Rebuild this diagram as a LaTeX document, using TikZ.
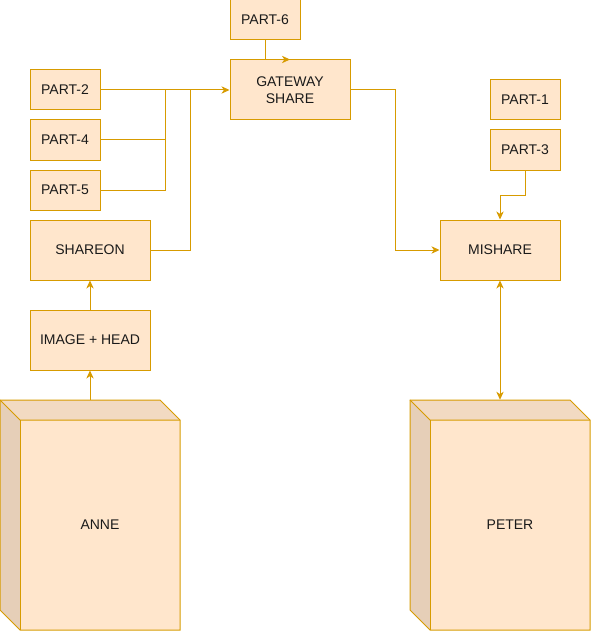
\documentclass[tikz,border=0pt]{standalone}
\usepackage{fontspec}
\setmainfont{Liberation Sans}
\usetikzlibrary{arrows.meta}
\definecolor{fillc}{HTML}{FFE6CC}
\definecolor{strk}{HTML}{D79B00}
\definecolor{topc}{HTML}{F2DAC2}
\definecolor{sidec}{HTML}{E6CFB8}
\definecolor{txt}{HTML}{1A1A1A}
\begin{document}
\begin{tikzpicture}[x=0.75pt,y=-0.75pt,
  lbl/.style={font=\fontsize{10.5pt}{12.5pt}\selectfont, text=txt},
  box/.style={lbl, draw=strk, fill=fillc, line width=0.75pt, inner sep=0pt, align=center},
  small/.style={box, minimum width=52.5pt, minimum height=30pt},
  big/.style={box, minimum width=90pt, minimum height=45pt},
  conn/.style={draw=strk, line width=0.75pt},
  tip/.style={},
  arr/.style={conn, -{Stealth[length=6pt,width=5.5pt,inset=1.8pt]}},
  arr2/.style={conn, {Stealth[length=6pt,width=5.5pt,inset=1.8pt]}-{Stealth[length=6pt,width=5.5pt,inset=1.8pt]}},
  cubeedge/.style={draw=strk, line width=0.75pt, line join=miter}
]
\useasboundingbox (0,0) rectangle (592,631);

% boxes
\node[small] (p6) at (265,20) {PART-6};
\node[big] (gw) at (290,90) {GATEWAY\\SHARE};
\node[small] (p2) at (65,90) {PART-2};
\node[small] (p4) at (65,140) {PART-4};
\node[small] (p5) at (65,190) {PART-5};
\node[big] (sh) at (90,250) {SHAREON};
\node[big] (ih) at (90,340) {IMAGE + HEAD};
\node[small] (p1) at (525,100) {PART-1};
\node[small] (p3) at (525,150) {PART-3};
\node[big] (mi) at (500,250) {MISHARE};

% cube ANNE
\fill[topc] (0,400) -- (160,400) -- (180,420) -- (20,420) -- cycle;
\fill[sidec] (0,400) -- (20,420) -- (20,630) -- (0,610) -- cycle;
\fill[fillc] (20,420) rectangle (180,630);
\draw[cubeedge] (0,400) -- (160,400) -- (180,420) -- (180,630) -- (20,630) -- (0,610) -- cycle;
\draw[cubeedge] (0,400) -- (20,420) -- (180,420);
\draw[cubeedge] (20,420) -- (20,630);
\node[inner sep=0pt, minimum width=135pt, minimum height=172.5pt] (anne) at (90,515) {};
\node[lbl] (annet) at (100,525) {ANNE};

% cube PETER
\fill[topc] (410,400) -- (570,400) -- (590,420) -- (430,420) -- cycle;
\fill[sidec] (410,400) -- (430,420) -- (430,630) -- (410,610) -- cycle;
\fill[fillc] (430,420) rectangle (590,630);
\draw[cubeedge] (410,400) -- (570,400) -- (590,420) -- (590,630) -- (430,630) -- (410,610) -- cycle;
\draw[cubeedge] (410,400) -- (430,420) -- (590,420);
\draw[cubeedge] (430,420) -- (430,630);
\node[inner sep=0pt, minimum width=135pt, minimum height=172.5pt] (peter) at (500,515) {};
\node[lbl] (petert) at (510,525) {PETER};

% junctions
\coordinate (j1) at (165,90);
\coordinate (j2) at (190,90);
\coordinate (j3) at (395,90);
\coordinate (j4) at (525,195);

% connectors
\draw[arr] (p6.south) -- (p6.south |- gw.north) -- (gw.north);
\draw[arr] (p2.east) -- (gw.west);
\draw[conn] (p4.east) -| (j1);
\draw[conn] (p5.east) -| (j1);
\draw[conn] (sh.east) -| (j2);
\draw[arr] (gw.east) -- (j3) |- (mi.west);
\draw[arr] (p3.south) -- (j4) -| (mi.north);
\draw[arr2] (mi.south) -- (peter.north);
\draw[arr] (ih.north) -- (sh.south);
\draw[arr] (anne.north) -- (ih.south);
\end{tikzpicture}
\end{document}
